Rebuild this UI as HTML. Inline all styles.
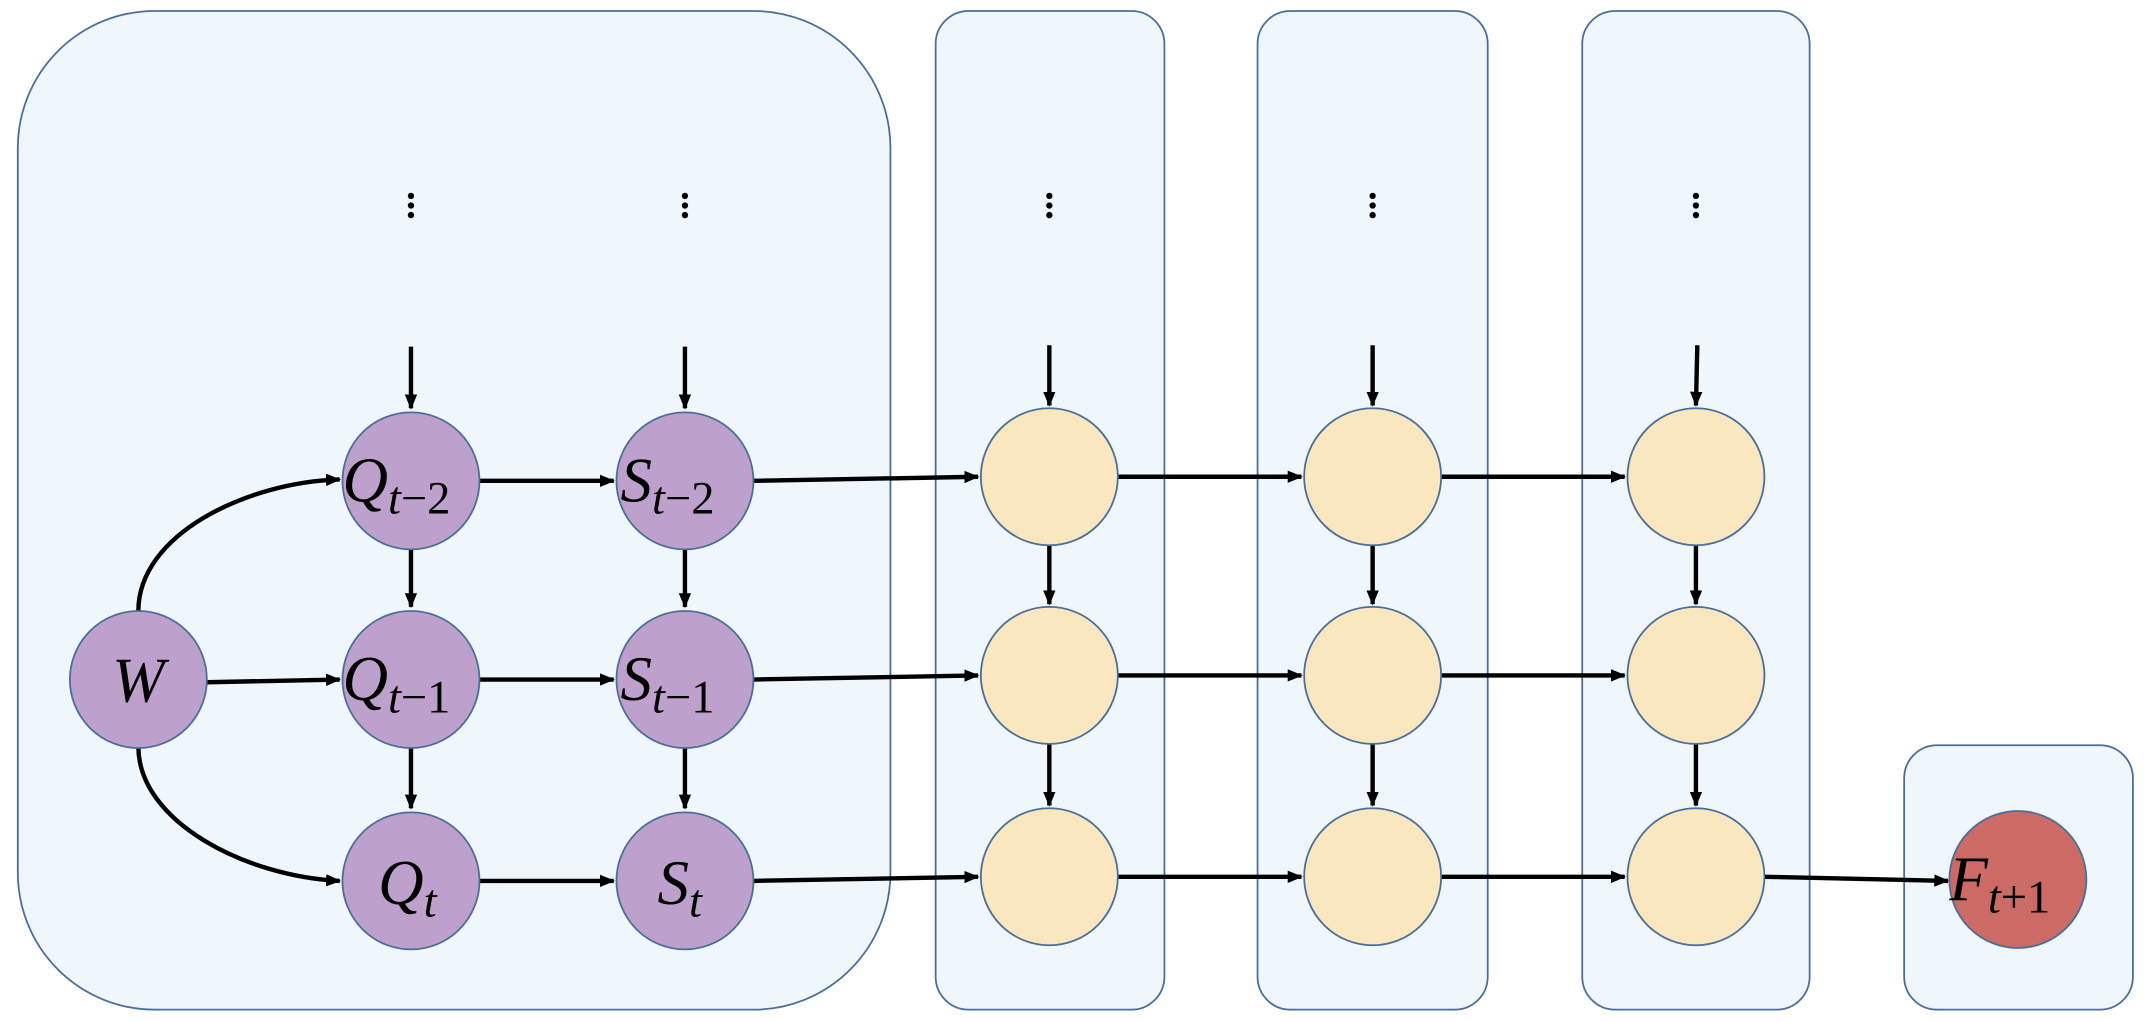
<!DOCTYPE html>
<html><head><style>html,body{margin:0;padding:0;background:#fff}svg{display:block}</style></head>
<body>
<svg width="2148" height="1022" viewBox="0 0 1568 746" preserveAspectRatio="none" xmlns="http://www.w3.org/2000/svg">
<defs><marker id="a" markerWidth="11" markerHeight="9" refX="10" refY="4.5" orient="auto" markerUnits="userSpaceOnUse"><path d="M0,0 L11,4.5 L0,9 z" fill="#000"/></marker>
<g id="d"><circle cx="0" cy="143" r="2.3"/><circle cx="0" cy="150" r="2.3"/><circle cx="0" cy="157" r="2.3"/></g></defs>
<g fill="#eff6fc" stroke="#4a6e98" stroke-width="1.3">
<rect x="13" y="8" width="637" height="729" rx="100"/>
<rect x="683" y="8" width="167" height="729" rx="24"/>
<rect x="918" y="8" width="168" height="729" rx="24"/>
<rect x="1155" y="8" width="166" height="729" rx="24"/>
<rect x="1390" y="544" width="167" height="193" rx="24"/>
</g>
<g fill="#000">
<use href="#d" x="300"/><use href="#d" x="500"/><use href="#d" x="766"/><use href="#d" x="1002"/><use href="#d" x="1238"/>
</g>
<g stroke="#000" stroke-width="3.2" fill="none" marker-end="url(#a)">
<line x1="300" y1="253" x2="300" y2="298"/><line x1="500" y1="253" x2="500" y2="298"/>
<line x1="766" y1="252" x2="766" y2="296"/><line x1="1002" y1="252" x2="1002" y2="296"/><line x1="1239" y1="252" x2="1238" y2="296"/>
<line x1="300" y1="400" x2="300" y2="443"/><line x1="500" y1="400" x2="500" y2="443"/>
<line x1="300" y1="545" x2="300" y2="590"/><line x1="500" y1="545" x2="500" y2="590"/>
<line x1="766" y1="398" x2="766" y2="441"/><line x1="1002" y1="398" x2="1002" y2="441"/><line x1="1238" y1="398" x2="1238" y2="441"/>
<line x1="766" y1="543" x2="766" y2="588"/><line x1="1002" y1="543" x2="1002" y2="588"/><line x1="1238" y1="543" x2="1238" y2="588"/>
<line x1="350" y1="351" x2="448" y2="351"/><line x1="350" y1="496" x2="448" y2="496"/><line x1="350" y1="643" x2="448" y2="643"/>
<line x1="151" y1="498" x2="248" y2="496"/>
<line x1="550" y1="351" x2="714" y2="348"/><line x1="550" y1="496" x2="714" y2="493"/><line x1="550" y1="643" x2="714" y2="640"/>
<line x1="816" y1="348" x2="950" y2="348"/><line x1="816" y1="493" x2="950" y2="493"/><line x1="816" y1="640" x2="950" y2="640"/>
<line x1="1052" y1="348" x2="1186" y2="348"/><line x1="1052" y1="493" x2="1186" y2="493"/><line x1="1052" y1="640" x2="1186" y2="640"/>
<line x1="1288" y1="640" x2="1422" y2="643"/>
<path d="M101,446 C101,390 180,352 248,350"/>
<path d="M101,545 C101,600 180,640 248,643"/>
</g>
<g stroke="#4a6e98" stroke-width="1.3">
<g fill="#bea0cc">
<circle cx="101" cy="496" r="50"/>
<circle cx="300" cy="351" r="50"/><circle cx="300" cy="496" r="50"/><circle cx="300" cy="643" r="50"/>
<circle cx="500" cy="351" r="50"/><circle cx="500" cy="496" r="50"/><circle cx="500" cy="643" r="50"/>
</g>
<g fill="#fae7c0">
<circle cx="766" cy="348" r="50"/><circle cx="766" cy="493" r="50"/><circle cx="766" cy="640" r="50"/>
<circle cx="1002" cy="348" r="50"/><circle cx="1002" cy="493" r="50"/><circle cx="1002" cy="640" r="50"/>
<circle cx="1238" cy="348" r="50"/><circle cx="1238" cy="493" r="50"/><circle cx="1238" cy="640" r="50"/>
</g>
<circle cx="1473" cy="642" r="50" fill="#cc6a66"/>
</g>
<g font-family="Liberation Serif, serif" font-style="italic" font-size="46" fill="#000">
<text x="101" y="512" text-anchor="middle">W</text>
<text x="250" y="366">Q<tspan font-size="34" dy="9">t</tspan><tspan font-size="34" font-style="normal">−2</tspan></text>
<text x="250" y="511">Q<tspan font-size="34" dy="9">t</tspan><tspan font-size="34" font-style="normal">−1</tspan></text>
<text x="276" y="660">Q<tspan font-size="34" dy="9">t</tspan></text>
<text x="453" y="366">S<tspan font-size="34" dy="9">t</tspan><tspan font-size="34" font-style="normal">−2</tspan></text>
<text x="453" y="511">S<tspan font-size="34" dy="9">t</tspan><tspan font-size="34" font-style="normal">−1</tspan></text>
<text x="480" y="660">S<tspan font-size="34" dy="9">t</tspan></text>
<text x="1423" y="657">F<tspan font-size="34" dy="9">t</tspan><tspan font-size="34" font-style="normal">+1</tspan></text>
</g>
</svg>
</body></html>
